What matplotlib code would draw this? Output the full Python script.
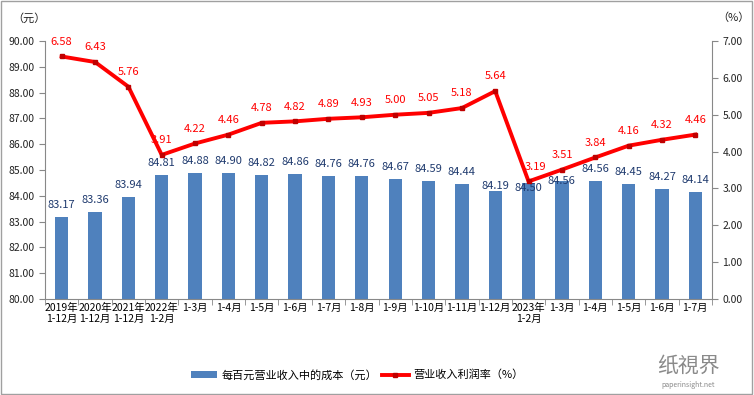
import matplotlib.pyplot as plt
import numpy as np

plt.rcParams['font.family'] = ['Noto Sans CJK SC', 'DejaVu Sans']

categories = ["2019年\n1-12月", "2020年\n1-12月", "2021年\n1-12月", "2022年\n1-2月",
              "1-3月", "1-4月", "1-5月", "1-6月", "1-7月", "1-8月", "1-9月",
              "1-10月", "1-11月", "1-12月", "2023年\n1-2月",
              "1-3月", "1-4月", "1-5月", "1-6月", "1-7月"]
cost = [83.17, 83.36, 83.94, 84.81, 84.88, 84.90, 84.82, 84.86, 84.76, 84.76,
        84.67, 84.59, 84.44, 84.19, 84.50, 84.56, 84.56, 84.45, 84.27, 84.14]
margin = [6.58, 6.43, 5.76, 3.91, 4.22, 4.46, 4.78, 4.82, 4.89, 4.93,
          5.00, 5.05, 5.18, 5.64, 3.19, 3.51, 3.84, 4.16, 4.32, 4.46]

bar_color = "#4F81BD"
line_color = "#FF0000"
label_blue = "#1F3A6E"

fig = plt.figure(figsize=(7.54, 3.95), dpi=100)
ax = fig.add_axes([45/754, 1-299/395, (712-45)/754, (299-41)/395])
x = np.arange(len(categories))

ax.bar(x, cost, width=0.4, color=bar_color, label="每百元营业收入中的成本（元）", zorder=2)
ax.set_ylim(80, 90)
ax.set_yticks(np.arange(80, 90.1, 1))
ax.set_yticklabels([f"{v:.2f}" for v in np.arange(80, 90.1, 1)])
ax.set_xlim(-0.5, len(categories) - 0.5)
ax.set_xticks(x)
ax.set_xticklabels(categories, fontsize=7.5, linespacing=1.1)
ax.set_xticks(np.arange(-0.5, len(categories)), minor=True)
ax.tick_params(axis='x', which='major', length=0, pad=3)
ax.tick_params(axis='x', which='minor', length=4, color="#888888")
ax.tick_params(axis='y', labelsize=7.5, length=4, color="#888888", colors="#222222")
for s in ["top", "right"]:
    ax.spines[s].set_visible(False)
for s in ["left", "bottom"]:
    ax.spines[s].set_color("#888888")

# label offsets (pixels above bar top); Excel nudged a few to dodge the line
bar_off = [12] * len(cost)
bar_off[13] = 5
bar_off[14] = -5
bar_off[15] = 0
for xi, v, off in zip(x, cost, bar_off):
    ax.annotate(f"{v:.2f}", (xi, v), xytext=(0, off * 0.72), textcoords="offset points",
                ha="center", va="center", fontsize=8, color=label_blue, zorder=5)

ax2 = ax.twinx()
ax2.plot(x, margin, color=line_color, lw=2.8, marker="s", ms=3.5,
         markerfacecolor="#C00000", markeredgecolor="#C00000",
         label="营业收入利润率（%）", zorder=3)
ax2.set_ylim(0, 7)
ax2.set_yticks(np.arange(0, 7.1, 1))
ax2.set_yticklabels([f"{v:.2f}" for v in np.arange(0, 7.1, 1)])
ax2.tick_params(axis='y', labelsize=7.5, length=4, color="#888888", colors="#222222")
for s in ["top", "left", "bottom"]:
    ax2.spines[s].set_visible(False)
ax2.spines["right"].set_color("#888888")

for i, (xi, v) in enumerate(zip(x, margin)):
    dx = 5 if i == 14 else 0
    ax2.annotate(f"{v:.2f}", (xi, v), xytext=(dx, 7), textcoords="offset points",
                 ha="center", va="bottom", fontsize=8, color=line_color, zorder=5)

fig.text(12/754, 1-18/395, "（元）", fontsize=8, ha="left", va="center", color="#222222")
fig.text(733/754, 1-18/395, "（%）", fontsize=8, ha="center", va="center", color="#222222")

h1, l1 = ax.get_legend_handles_labels()
h2, l2 = ax2.get_legend_handles_labels()
fig.legend(h1 + h2, l1 + l2, loc="center", bbox_to_anchor=(357/754, 1-375/395),
           ncol=2, frameon=False, fontsize=8, handlelength=2.4, columnspacing=0.4,
           handletextpad=0.4)

fig.text(688/754, 1-366/395, "纸視界", fontsize=15, color="#8A8A8A", ha="center", va="center")
fig.text(688/754, 1-385/395, "paperinsight.net", fontsize=5, color="#888888", ha="center", va="center")

fig.patches.append(plt.Rectangle((0.001, 0.002), 0.997, 0.995, transform=fig.transFigure,
                                 fill=False, edgecolor="#A0A0A0", lw=1))

fig.savefig("out.png", dpi=100)
